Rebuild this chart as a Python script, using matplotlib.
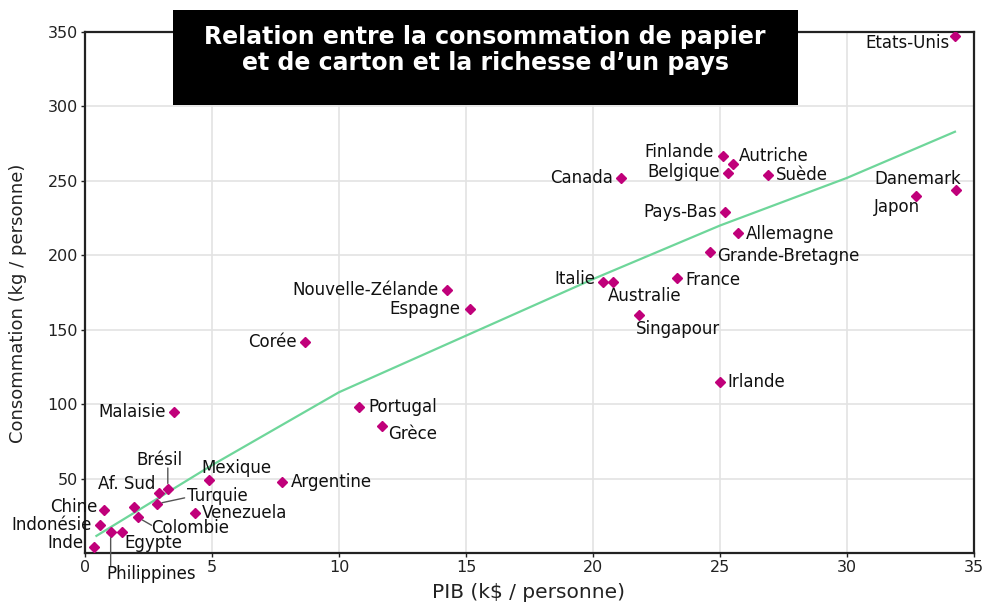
import matplotlib
matplotlib.use("Agg")
import matplotlib.pyplot as plt
from matplotlib.patches import Rectangle

# ---------------- data ----------------
countries = ["Etats-Unis", "Danemark", "Japon", "Suède", "Autriche", "Finlande",
             "Belgique", "Canada", "Pays-Bas", "Allemagne", "Grande-Bretagne",
             "France", "Italie", "Australie", "Singapour", "Irlande",
             "Nouvelle-Zélande", "Espagne", "Corée", "Portugal", "Grèce",
             "Malaisie", "Argentine", "Mexique", "Brésil", "Af. Sud", "",
             "Turquie", "Venezuela", "Colombie", "Chine", "Indonésie", "Inde",
             "Egypte", "Philippines"]
pib = [34.25, 34.3, 32.7, 26.9, 25.5, 25.1,
       25.3, 21.1, 25.2, 25.7, 24.6,
       23.3, 20.4, 20.8, 21.8, 25.0,
       14.25, 15.15, 8.66, 10.8, 11.7,
       3.5, 7.76, 4.9, 3.26, 2.91, 1.94,
       2.82, 4.33, 2.07, 0.75, 0.59, 0.35,
       1.44, 1.01]
conso = [347, 244, 240, 254, 261, 267,
         255, 252, 229, 215, 202,
         185, 182, 182, 160, 115,
         177, 164, 142, 98, 85,
         95, 48, 49, 43, 40, 31,
         33, 27, 24, 29, 19, 4,
         14, 14]

trend_x = [0.45, 5, 10, 15, 20, 25, 30, 34.25]
trend_y = [11.5, 59, 108, 146, 184, 220, 252, 283]

xticks = [0, 5, 10, 15, 20, 25, 30, 35]
yticks = [50, 100, 150, 200, 250, 300, 350]

title = "Relation entre la consommation de papier\net de carton et la richesse d\u2019un pays"
xlabel = "PIB (k$ / personne)"
ylabel = "Consommation (kg / personne)"

# label placement: (dx px, dy px (up positive), ha)
label_pos = {
    "Etats-Unis": (-5, -7, "right"),
    "Danemark": (5, 11, "right"),
    "Japon": (4, -11, "right"),
    "Suède": (8, 0, "left"),
    "Autriche": (6, 8, "left"),
    "Finlande": (-9, 4, "right"),
    "Belgique": (-8, 1, "right"),
    "Canada": (-8, 0, "right"),
    "Pays-Bas": (-8, 0, "right"),
    "Allemagne": (8, -1, "left"),
    "Grande-Bretagne": (7, -4, "left"),
    "France": (9, -2, "left"),
    "Italie": (-8, 3, "right"),
    "Australie": (-5, -14, "left"),
    "Singapour": (-3, -14, "left"),
    "Irlande": (7, 0, "left"),
    "Nouvelle-Zélande": (-8, 0, "right"),
    "Espagne": (-9, 0, "right"),
    "Corée": (-8, 0, "right"),
    "Portugal": (9, 0, "left"),
    "Grèce": (6, -8, "left"),
    "Malaisie": (-8, 0, "right"),
    "Argentine": (9, 0, "left"),
    "Mexique": (-8, 12, "left"),
    "Brésil": (-8, 29, "center"),
    "Af. Sud": (-4, 9, "right"),
    "Turquie": (30, 8, "left"),
    "Venezuela": (7, 0, "left"),
    "Colombie": (14, -11, "left"),
    "Chine": (-7, 3, "right"),
    "Indonésie": (-8, 0, "right"),
    "Inde": (-10, 4, "right"),
    "Egypte": (3, -11, "left"),
    "Philippines": (-4, -42, "left"),
}
leaders = {"Brésil": (0, 21), "Philippines": (0, -34),
           "Turquie": (28, 6), "Colombie": (14, -8)}

LBL = 12
# ---------------- figure ----------------
W, H = 985, 604
fig = plt.figure(figsize=(W / 100, H / 100), dpi=100)
fig.patch.set_facecolor("white")
ax = fig.add_axes([85 / W, 1 - 553 / H, (974 - 85) / W, (553 - 32) / H])

ax.set_xlim(0, 35)
ax.set_ylim(0, 350)
ax.set_xticks(xticks)
ax.set_yticks(yticks)
ax.grid(True, color="#e3e3e3", linewidth=1.2, zorder=0)
ax.set_axisbelow(True)
for s in ax.spines.values():
    s.set_color("#222222")
    s.set_linewidth(1.6)
ax.tick_params(direction="out", length=3, width=1, colors="#222222",
               labelsize=11.5, pad=2)

ax.plot(trend_x, trend_y, color="#6ed69a", linewidth=1.6, zorder=2)
ax.plot(pib, conso, linestyle="none", marker="D", markersize=5.5,
        color="#c0007a", zorder=3)

for name, x, y in zip(countries, pib, conso):
    if not name:
        continue
    dx, dy, ha = label_pos[name]
    ax.annotate(name, (x, y), xytext=(dx, dy), textcoords="offset pixels",
                ha=ha, va="center", fontsize=LBL, color="#111111",
                annotation_clip=False, zorder=4)
    if name in leaders:
        lx, ly = leaders[name]
        ax.annotate("", (x, y), xytext=(lx, ly), textcoords="offset pixels",
                    arrowprops=dict(arrowstyle="-", color="#555555", lw=1,
                                    shrinkA=0, shrinkB=4),
                    annotation_clip=False)

fig.text(529 / W, 1 - 593 / H, xlabel, ha="center", va="center",
         fontsize=14.5, color="#222222")
fig.text(18 / W, 1 - 303 / H, ylabel, ha="center", va="center",
         rotation=90, fontsize=13, color="#222222")

# title box
fig.patches.append(Rectangle((173 / W, 1 - 105 / H), (798 - 173) / W, 95 / H,
                             transform=fig.transFigure, facecolor="black",
                             edgecolor="none", zorder=5))
fig.text(485 / W, 1 - 50 / H, title, ha="center", va="center", color="white",
         fontsize=17, fontweight="bold", linespacing=1.15, zorder=6)

fig.savefig("out.png", dpi=100)
